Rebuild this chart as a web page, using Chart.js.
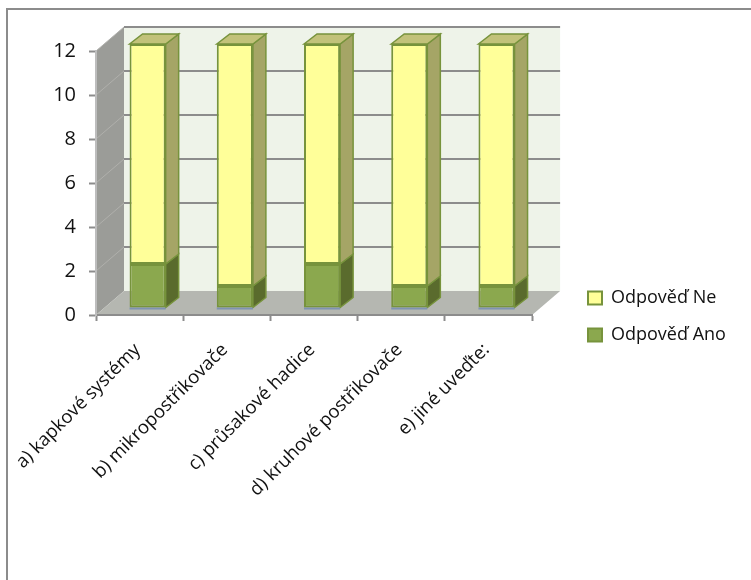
<!DOCTYPE html>
<html>
<head>
<meta charset="utf-8">
<style>
  body { margin: 0; background: #fff; }
</style>
<script src="https://cdn.jsdelivr.net/npm/chart.js@4"></script>
</head>
<body>
<canvas id="chart" width="751" height="580"></canvas>
<script>
const categories = ['a) kapkové systémy', 'b) mikropostřikovače', 'c) průsakové hadice', 'd) kruhové postřikovače', 'e) jiné uveďte:'];
const odpovedAno = [2, 1, 2, 1, 1];
const odpovedNe = [10, 11, 10, 11, 11];

const fontName = '"Open Sans", sans-serif';
const wallDepth = { x: 28, y: -24 };
const barDepth = { x: 13, y: -10 };
const barShift = { x: 8, y: -7 };

function polygon(ctx, points, fill) {
  ctx.beginPath();
  points.forEach((p, i) => i ? ctx.lineTo(p[0], p[1]) : ctx.moveTo(p[0], p[1]));
  ctx.closePath();
  ctx.fillStyle = fill;
  ctx.fill();
}

// Frame, walls, floor and the gridlines behind the bars
const room = {
  id: 'room',
  beforeDraw(chart) {
    const { ctx, chartArea: a, scales: { y } } = chart;
    const dx = wallDepth.x, dy = wallDepth.y;
    ctx.save();
    ctx.strokeStyle = '#8c8c8c';
    ctx.lineWidth = 2;
    ctx.beginPath();
    ctx.moveTo(7, 580);
    ctx.lineTo(7, 9);
    ctx.lineTo(751, 9);
    ctx.stroke();
    polygon(ctx, [[a.left, a.top], [a.left + dx, a.top + dy], [a.left + dx, a.bottom + dy], [a.left, a.bottom]], '#9b9c98');
    polygon(ctx, [[a.left + dx, a.top + dy], [a.right + dx, a.top + dy], [a.right + dx, a.bottom + dy], [a.left + dx, a.bottom + dy]], '#eef3e9');
    polygon(ctx, [[a.left, a.bottom], [a.left + dx, a.bottom + dy], [a.right + dx, a.bottom + dy], [a.right, a.bottom]], '#b5b7b1');
    y.ticks.forEach(t => {
      if (t.value === 0) return;
      const py = y.getPixelForValue(t.value);
      ctx.lineWidth = 1;
      ctx.strokeStyle = '#b0b0ac';
      ctx.beginPath();
      ctx.moveTo(a.left, py);
      ctx.lineTo(a.left + dx, py + dy);
      ctx.stroke();
      ctx.lineWidth = 2;
      ctx.strokeStyle = '#8c8c8c';
      ctx.beginPath();
      ctx.moveTo(a.left + dx, py + dy);
      ctx.lineTo(a.right + dx, py + dy);
      ctx.stroke();
    });
    ctx.restore();
  }
};

// Bars stand in the middle of the room, with a side and a top face
const barFaces = {
  id: 'barFaces',
  beforeDatasetsDraw(chart) {
    const { ctx } = chart;
    const dx = barDepth.x, dy = barDepth.y;
    ctx.save();
    ctx.translate(barShift.x, barShift.y);
    const sides = ['#5a6b2d', '#a5a566'];
    chart.data.datasets.forEach((ds, i) => {
      chart.getDatasetMeta(i).data.forEach(bar => {
        const right = bar.x + bar.width / 2;
        const left = bar.x - bar.width / 2;
        const side = [[right, bar.y], [right + dx, bar.y + dy], [right + dx, bar.base + dy], [right, bar.base]];
        polygon(ctx, side, sides[i]);
        ctx.strokeStyle = '#77933c';
        ctx.lineWidth = 1.5;
        ctx.stroke();
        if (i === 1) {
          polygon(ctx, [[left, bar.y], [left + dx, bar.y + dy], [right + dx, bar.y + dy], [right, bar.y]], '#c2c27a');
          ctx.stroke();
        }
        if (i === 0) {
          ctx.strokeStyle = '#7f93b2';
          ctx.lineWidth = 2;
          ctx.beginPath();
          ctx.moveTo(left, bar.base + 1);
          ctx.lineTo(right, bar.base + 1);
          ctx.stroke();
        }
      });
    });
  },
  afterDatasetsDraw(chart) {
    chart.ctx.restore();
  }
};

// Legend sits lower and further left than the default right-hand slot
const legendPlace = {
  id: 'legendPlace',
  afterLayout(chart) {
    const legend = chart.legend;
    const w = legend.width, h = legend.height;
    legend.left = 569;
    legend.right = legend.left + w;
    legend.top = 270;
    legend.bottom = legend.top + h;
  }
};

new Chart(document.getElementById('chart'), {
  type: 'bar',
  data: {
    labels: categories,
    datasets: [
      { label: 'Odpověď Ano', data: odpovedAno, backgroundColor: '#8ba84e', borderColor: '#77933c', borderWidth: 2, borderSkipped: false },
      { label: 'Odpověď Ne', data: odpovedNe, backgroundColor: '#ffff99', borderColor: '#77933c', borderWidth: 2, borderSkipped: false }
    ]
  },
  plugins: [room, barFaces, legendPlace],
  options: {
    responsive: false,
    animation: false,
    datasets: { bar: { barPercentage: 0.414, categoryPercentage: 1 } },
    layout: { autoPadding: false, padding: { top: 51, right: 52, bottom: 0, left: 0 } },
    plugins: {
      tooltip: { enabled: false },
      legend: {
        position: 'right',
        align: 'start',
        reverse: true,
        labels: { boxWidth: 14, boxHeight: 13, padding: 19, color: '#111', font: { family: fontName, size: 18 } }
      }
    },
    scales: {
      x: {
        stacked: true,
        afterFit(scale) {
          scale.height = 265;
          // the long first label must not push the plot to the right
          scale.paddingLeft = 0;
          scale.paddingRight = 0;
        },
        border: { color: '#8c8c8c', width: 2 },
        grid: { drawOnChartArea: false, tickLength: 6, tickColor: '#8c8c8c', tickWidth: 2 },
        ticks: { autoSkip: false, minRotation: 45, maxRotation: 45, padding: 18, labelOffset: -2, color: '#111', font: { family: fontName, size: 18.5 } }
      },
      y: {
        stacked: true,
        min: 0,
        max: 12,
        afterFit(scale) { scale.width = 96; },
        border: { color: '#bdbdbd', width: 2 },
        grid: { drawOnChartArea: false, tickLength: 7, tickColor: '#8c8c8c', tickWidth: 2 },
        ticks: { stepSize: 2, padding: 13, color: '#111', font: { family: fontName, size: 20 } }
      }
    }
  }
});
</script>
</body>
</html>
